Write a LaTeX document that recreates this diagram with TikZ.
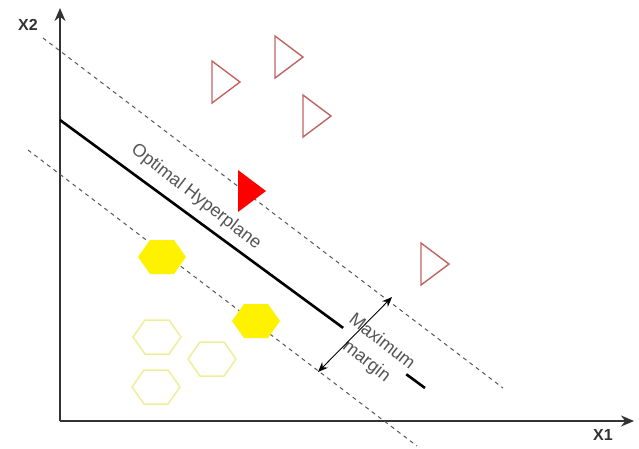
\documentclass[tikz,border=0pt]{standalone}
\usepackage{fontspec}
\setmainfont{Liberation Sans}
\usetikzlibrary{arrows.meta}
\definecolor{axisgray}{HTML}{333333}
\definecolor{txtgray}{HTML}{555555}
\definecolor{triedge}{HTML}{C06464}
\definecolor{paleyellow}{HTML}{EEEE99}
\newcommand\hexpath[2]{(#1-24,#2) -- (#1-12,#2-17) -- (#1+12,#2-17) -- (#1+24,#2) -- (#1+12,#2+17) -- (#1-12,#2+17) -- cycle}
\newcommand\tripath[2]{(#1,#2-21) -- (#1+28,#2) -- (#1,#2+21) -- cycle}
\begin{document}
\begin{tikzpicture}[x=1pt,y=-1pt,
  axis/.style={draw=axisgray,line width=1.8pt,-{Stealth[length=13pt,width=11pt]}},
  margin/.style={draw=txtgray,line width=1pt,dash pattern=on 4pt off 4pt},
  hyper/.style={draw=black,line width=2.6pt},
  lbl/.style={text=txtgray,font=\fontsize{18}{24}\selectfont,inner sep=0pt},
  axlbl/.style={text=axisgray,font=\fontsize{16}{18}\selectfont\bfseries,inner sep=0pt},
  openhex/.style={draw=paleyellow,line width=1.5pt},
  fullhex/.style={fill=yellow},
  opentri/.style={draw=triedge,line width=1.4pt,line join=miter},
  fulltri/.style={fill=red}]
\useasboundingbox (0,0) rectangle (639,448);
% axes
\coordinate (O) at (60,421);
\coordinate (ytip) at (60,8);
\coordinate (xtip) at (634,421);
\draw[axis] (O) -- (ytip);
\draw[axis] (O) -- (xtip);
\node[axlbl] (x2) at (28,25) {X2};
\node[axlbl] (x1) at (603,435) {X1};
% hyperplane
\coordinate (h1) at (60,120);
\coordinate (h2) at (425,388);
\draw[hyper] (h1) -- (h2);
% labels
\node[lbl,rotate=-37.8] (hyp) at (196,197) {Optimal Hyperplane};
\node[lbl,rotate=-38,align=center,fill=white,inner sep=0pt,font=\fontsize{18}{25}\selectfont] (mm) at (374,352) {Maximum\\margin};
% margin lines
\coordinate (u1) at (43,38);
\coordinate (u2) at (503,388);
\coordinate (l1) at (28,150);
\coordinate (l2) at (417,446);
\draw[margin] (u1) -- (u2);
\draw[margin] (l1) -- (l2);
% margin arrow
\coordinate (a1) at (318,372);
\coordinate (a2) at (392,297);
\draw[black,line width=0.9pt,{Stealth[length=10pt,width=8pt]}-{Stealth[length=10pt,width=8pt]}] (a1) -- (a2);
% triangles
\draw[opentri] \tripath{212}{82};
\draw[opentri] \tripath{275}{57};
\draw[opentri] \tripath{303}{116};
\draw[opentri] \tripath{421}{264};
\fill[fulltri] \tripath{238}{191};
% hexagons
\fill[fullhex] \hexpath{162}{257};
\fill[fullhex] \hexpath{256}{321};
\draw[openhex] \hexpath{157}{337};
\draw[openhex] \hexpath{212}{359};
\draw[openhex] \hexpath{156}{387};
\end{tikzpicture}
\end{document}
